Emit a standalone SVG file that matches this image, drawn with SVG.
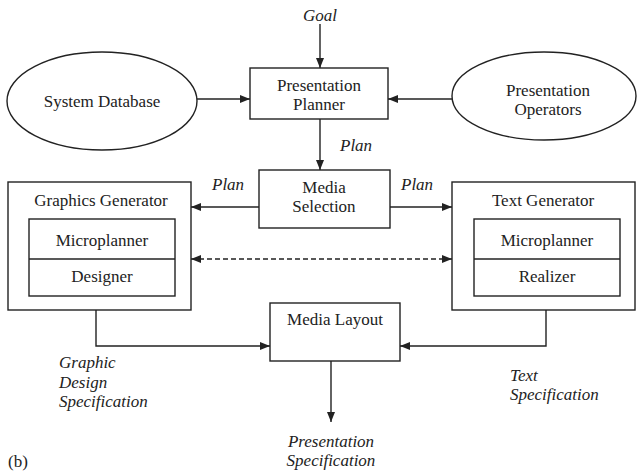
<svg xmlns="http://www.w3.org/2000/svg" width="638" height="472" viewBox="0 0 638 472">
<defs>
<marker id="ah" viewBox="0 0 10 8" refX="10" refY="4" markerWidth="10" markerHeight="8" markerUnits="userSpaceOnUse" orient="auto-start-reverse">
<path d="M0,0 L10,4 L0,8 z" fill="#222"/>
</marker>
<style>
.s{fill:#fff;stroke:#222;stroke-width:1.4}
.t{text-anchor:middle}
.i{font-style:italic}
.c{fill:none;stroke:#222;stroke-width:1.4}
</style>
</defs>
<rect width="638" height="472" fill="#fff"/>
<g font-family="Liberation Serif, Times New Roman, DejaVu Serif, serif" font-size="17" fill="#222">
<g id="connectors">
<line class="c" x1="320" y1="24" x2="320" y2="68" marker-end="url(#ah)"/>
<line class="c" x1="197" y1="99" x2="250" y2="99" marker-end="url(#ah)"/>
<line class="c" x1="452" y1="99" x2="388" y2="99" marker-end="url(#ah)"/>
<line class="c" x1="320" y1="119" x2="320" y2="170" marker-end="url(#ah)"/>
<line class="c" x1="259" y1="207" x2="191" y2="207" marker-end="url(#ah)"/>
<line class="c" x1="390" y1="207" x2="452" y2="207" marker-end="url(#ah)"/>
<line class="c" x1="191" y1="259" x2="452" y2="259" stroke-dasharray="5,3" marker-start="url(#ah)" marker-end="url(#ah)"/>
<polyline class="c" points="96,310 96,346 270,346" marker-end="url(#ah)"/>
<polyline class="c" points="546,310 546,346 400,346" marker-end="url(#ah)"/>
<line class="c" x1="331" y1="361" x2="331" y2="422" marker-end="url(#ah)"/>
<text class="i" x="320" y="21" text-anchor="middle">Goal</text>
<text class="i" x="340" y="151">Plan</text>
<text class="i" x="212" y="190">Plan</text>
<text class="i" x="401" y="190">Plan</text>
<text class="i" x="59" y="368">Graphic</text>
<text class="i" x="59" y="388">Design</text>
<text class="i" x="59" y="407">Specification</text>
<text class="i" x="510" y="381">Text</text>
<text class="i" x="510" y="400">Specification</text>
<text class="i" x="331" y="447" text-anchor="middle">Presentation</text>
<text class="i" x="331" y="466" text-anchor="middle">Specification</text>
</g>
<g id="system-database">
<ellipse class="s" cx="102" cy="101" rx="95" ry="49"/>
<text class="t" x="102" y="107">System Database</text>
</g>
<g id="presentation-planner">
<rect class="s" x="250" y="68" width="138" height="51"/>
<text class="t" x="319" y="91">Presentation</text>
<text class="t" x="319" y="110">Planner</text>
</g>
<g id="presentation-operators">
<ellipse class="s" cx="544" cy="96" rx="92" ry="44"/>
<text class="t" x="548" y="96">Presentation</text>
<text class="t" x="548" y="115">Operators</text>
</g>
<g id="media-selection">
<rect class="s" x="259" y="170" width="131" height="58"/>
<text class="t" x="324" y="193">Media</text>
<text class="t" x="324" y="212">Selection</text>
</g>
<g id="graphics-generator">
<rect class="s" x="8" y="182" width="183" height="128"/>
<text class="t" x="101" y="206">Graphics Generator</text>
<rect class="s" x="29" y="219" width="146" height="77"/>
<line class="c" x1="29" y1="259" x2="175" y2="259"/>
<text class="t" x="102" y="246">Microplanner</text>
<text class="t" x="102" y="282">Designer</text>
</g>
<g id="text-generator">
<rect class="s" x="452" y="182" width="183" height="128"/>
<text class="t" x="543" y="206">Text Generator</text>
<rect class="s" x="474" y="219" width="146" height="77"/>
<line class="c" x1="474" y1="259" x2="620" y2="259"/>
<text class="t" x="547" y="246">Microplanner</text>
<text class="t" x="547" y="282">Realizer</text>
</g>
<g id="media-layout">
<rect class="s" x="270" y="303" width="130" height="58"/>
<text class="t" x="335" y="325">Media Layout</text>
</g>
<text x="8" y="467">(b)</text>
</g>
</svg>
